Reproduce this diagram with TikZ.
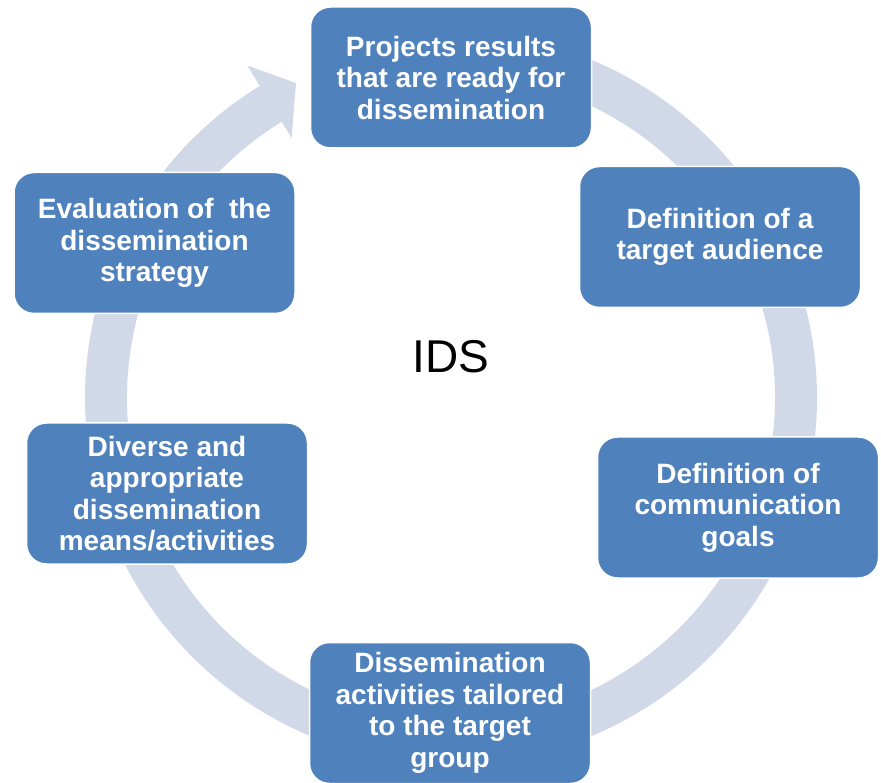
\documentclass[tikz,border=0pt]{standalone}
\usepackage{fontspec}
\setmainfont{Liberation Sans}
\definecolor{boxblue}{RGB}{79,129,189}
\definecolor{ringgray}{RGB}{209,216,232}
\tikzset{
  box/.style={fill=boxblue, draw=white, line width=1.5pt, rounded corners=20pt,
    minimum width=281pt, minimum height=141pt, align=center, text=white,
    inner sep=0pt, font=\fontsize{28}{31.5}\selectfont\bfseries},
  ring/.style={fill=ringgray}
}
\begin{document}
\begin{tikzpicture}[x=1pt,y=-1pt]
\useasboundingbox (0,0) rectangle (881,783);
\begin{scope}[shift={(451,398)}, y=1pt]
\fill[ring] (90:366) arc[start angle=90,end angle=-238.5,radius=366]
  -- (-238.5:390) -- (-243.8:351) -- (-238.5:305) -- (-238.5:324)
  arc[start angle=-238.5,end angle=90,radius=324] -- cycle;
\end{scope}
\node[box] (a) at (451,77.5) {Projects results\\that are ready for\\dissemination};
\node[box] (b) at (720,237) {Definition of a\\target audience};
\node[box] (c) at (738,507.5) {Definition of\\communication\\goals};
\node[box] (d) at (450,713) {Dissemination\\activities tailored\\to the target\\group};
\node[box] (e) at (167,493.5) {Diverse and\\appropriate\\dissemination\\means/activities};
\node[box] (f) at (154.5,243) {Evaluation of~ the\\dissemination\\strategy};
\node[font=\fontsize{46}{50}\selectfont] (ids) at (451,357) {IDS};
\end{tikzpicture}
\end{document}
